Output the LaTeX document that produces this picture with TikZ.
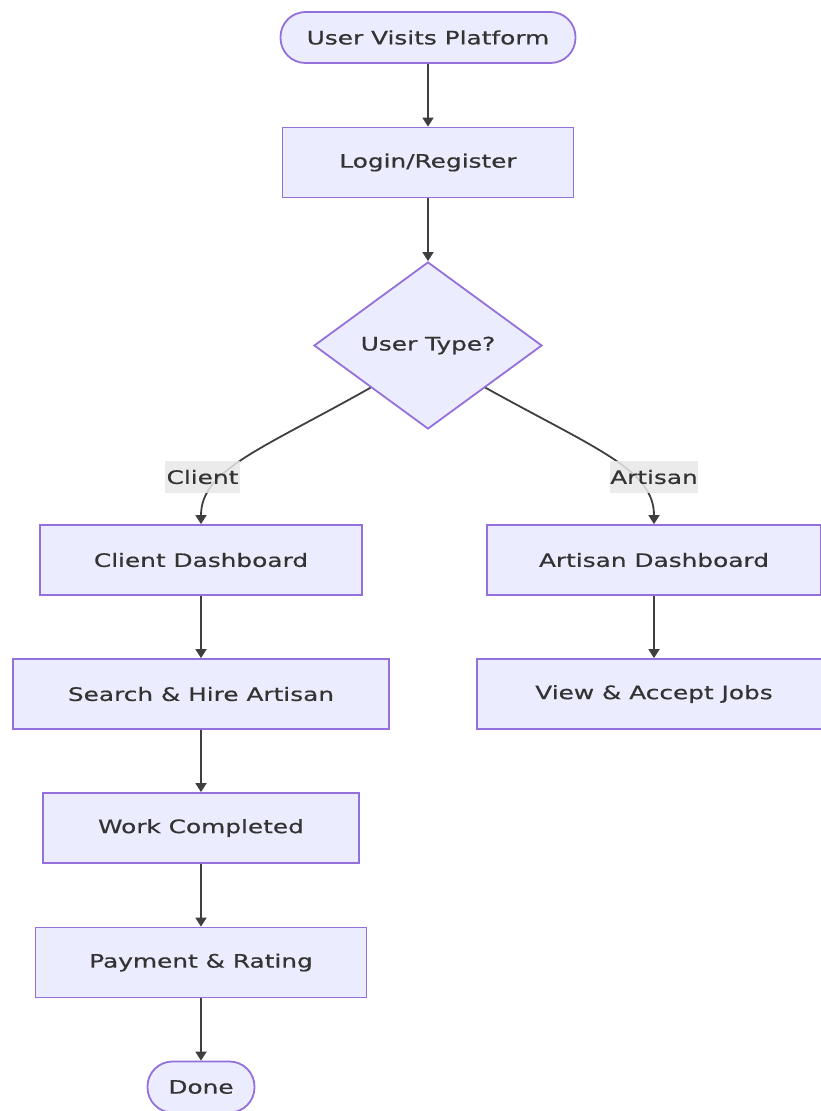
\documentclass[tikz,border=0pt]{standalone}
\usepackage{fontspec}
\setmainfont[FakeStretch=1.34,FakeBold=0.6]{DejaVu Sans}
\usetikzlibrary{shapes.geometric,arrows.meta}
\definecolor{mmfill}{HTML}{ECECFF}
\definecolor{mmborder}{HTML}{9370DB}
\definecolor{mmline}{HTML}{3F3F3F}
\definecolor{mmtext}{HTML}{333333}
\definecolor{mmlabel}{HTML}{E8E8E8}
\tikzset{
  base/.style={draw=mmborder, fill=mmfill, line width=1.8pt, text=mmtext, font=\fontsize{18.5}{22}\selectfont, inner sep=0pt},
  box/.style={base, rectangle, minimum height=70pt},
  term/.style={base, rectangle, rounded corners=25pt, minimum height=51pt},
  decide/.style={base, diamond, minimum width=228pt, minimum height=167pt},
  elabel/.style={fill=mmlabel, fill opacity=0.85, text opacity=1, text=mmtext, font=\fontsize{18.5}{22}\selectfont, inner sep=0pt, minimum height=32pt},
  edge/.style={draw=mmline, line width=1.8pt, -{Triangle[width=11pt,length=9pt]}},
}
\begin{document}
\begin{tikzpicture}[x=1pt,y=-1pt]
\useasboundingbox (0,0) rectangle (821,1111);
\node[term, minimum width=295pt] (start) at (428,37.5) {User Visits Platform};
\node[box, minimum width=291pt] (login) at (428,162.5) {Login/Register};
\node[decide] (dec) at (428,345.5) {User Type?};
\node[box, minimum width=322pt] (cd) at (201,560) {Client Dashboard};
\node[box, minimum width=334pt] (ad) at (654,560) {Artisan Dashboard};
\node[box, minimum width=376pt] (sh) at (201,694) {Search \& Hire Artisan};
\node[box, minimum width=354pt] (va) at (654,694) {View \& Accept Jobs};
\node[box, minimum width=316pt] (wc) at (201,828) {Work Completed};
\node[box, minimum width=331pt] (pr) at (201,962.5) {Payment \& Rating};
\node[term, minimum width=107pt] (done) at (201,1087) {Done};

\draw[edge] (start) -- (login);
\draw[edge] (login) -- (dec);
\draw[edge] (dec.south west) .. controls (260,450) and (201,470) .. (cd.north);
\draw[edge] (dec.south east) .. controls (598,450) and (654,470) .. (ad.north);
\draw[edge] (cd) -- (sh);
\draw[edge] (ad) -- (va);
\draw[edge] (sh) -- (wc);
\draw[edge] (wc) -- (pr);
\draw[edge] (pr) -- (done);

\node[elabel, minimum width=75pt] (lc) at (202.5,477) {Client};
\node[elabel, minimum width=88pt] (la) at (654,477) {Artisan};
\end{tikzpicture}
\end{document}
